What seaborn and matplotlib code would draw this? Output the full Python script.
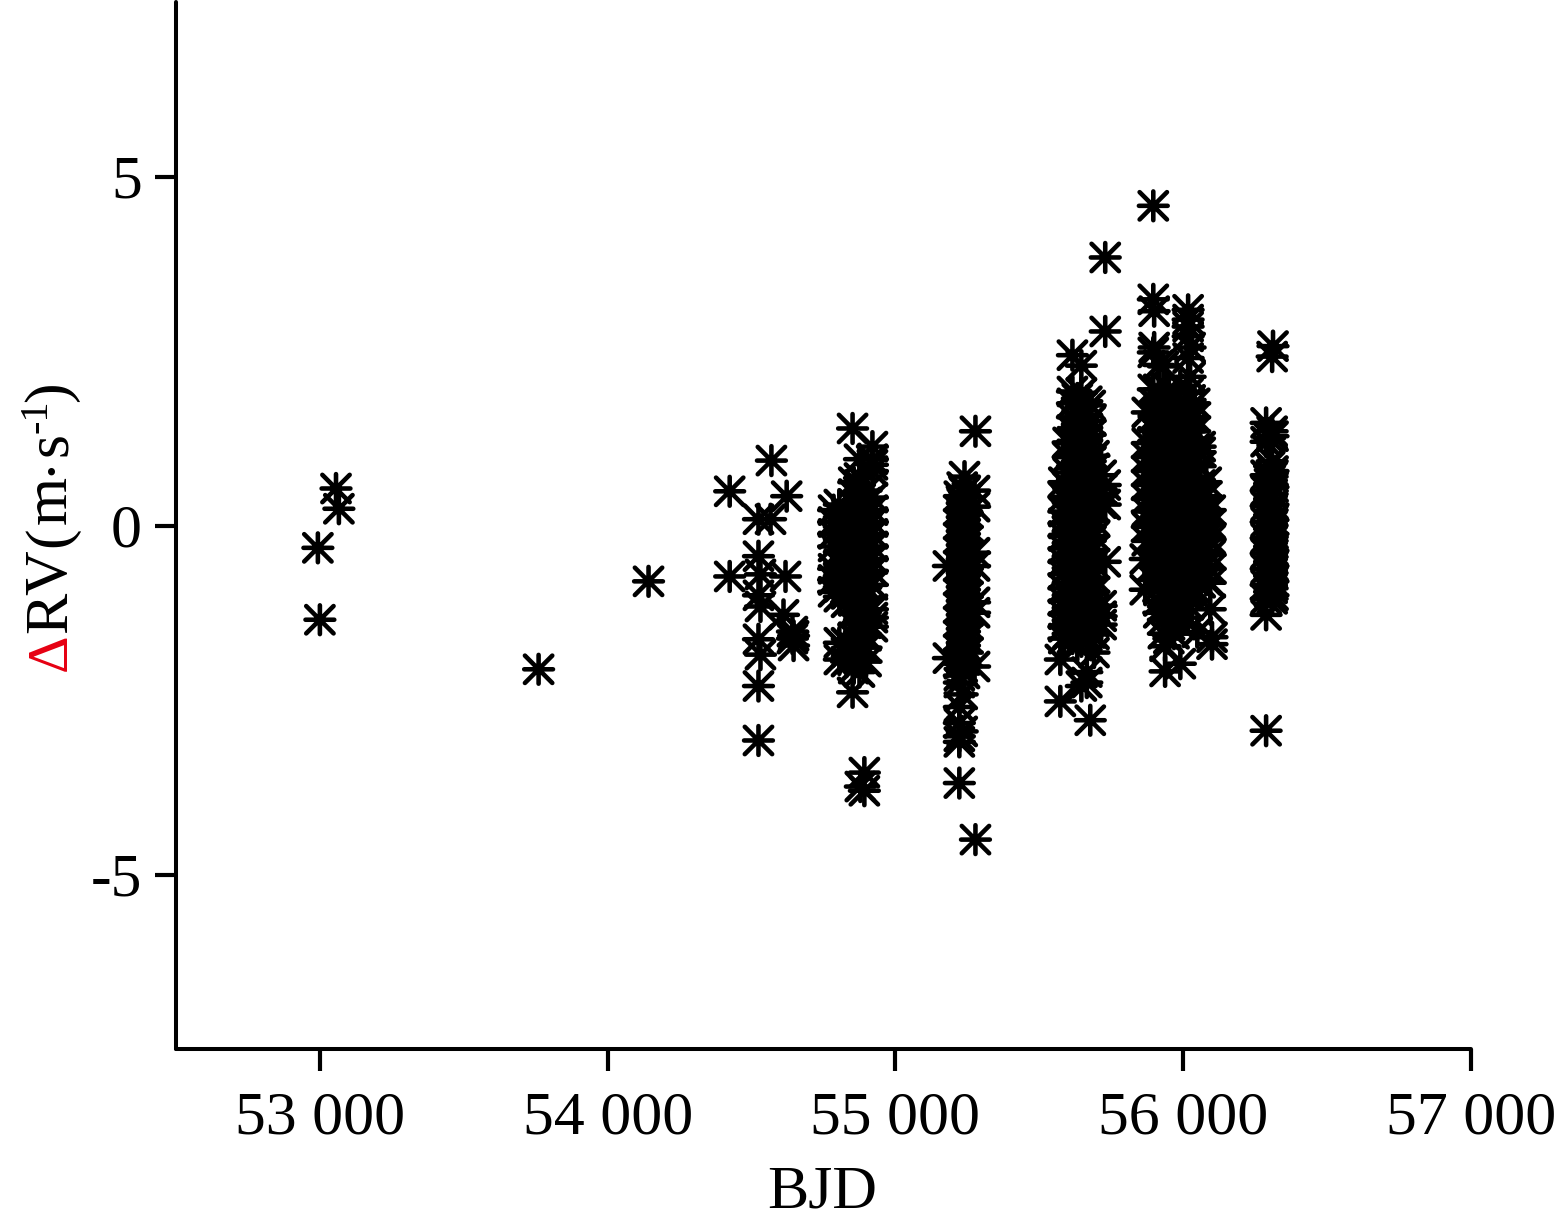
import matplotlib
matplotlib.use("Agg")
import matplotlib.pyplot as plt
from matplotlib.path import Path
from matplotlib.ticker import FixedLocator, FixedFormatter
import pandas as pd
import seaborn as sns

x_ticks = [53000, 54000, 55000, 56000, 57000]
x_labels = ["53 000", "54 000", "55 000", "56 000", "57 000"]
y_ticks = [-5, 0, 5]
y_labels = ["-5", "0", "5"]

# Each entry: (BJD, [RV values read at that BJD])
sparse = [
    (52993, [-0.32]), (53000, [-1.35]), (53056, [0.53]), (53066, [0.24]),
    (53760, [-2.06]), (54142, [-0.80]), (54424, [0.49, -0.73]),
    (54569, [0.93]), (54622, [0.42]), (54524, [0.09, -0.44, -1.0, -1.63, -2.3, -3.08]),
    (54566, [0.09]), (54531, [-0.70, -1.16, -1.85]), (54618, [-0.73]),
    (54611, [-1.28]), (54642, [-1.52, -1.62]), (54646, [-1.72, -1.58]),
]
epoch_548 = [
    (54785, [0.22, 0.05, -0.12, -0.30, -0.62, -0.78, -0.95]),
    (54805, [0.30, 0.12, -0.02, -0.20, -0.38, -0.55, -0.72, -0.88, -1.02, -1.68, -1.92]),
    (54830, [0.18, 0.02, -0.15, -0.32, -0.48, -0.65, -0.80, -0.98, -1.10, -1.68, -1.82, -1.95]),
    (54851, [1.39, -2.39]),
    (54855, [0.62, 0.45, 0.30, 0.12, -0.05, -0.22, -0.40, -0.58, -0.75, -0.90, -1.08, -1.25, -1.42, -1.60, -1.75, -1.90, -2.05]),
    (54875, [0.95, 0.68, 0.58, 0.40, 0.22, 0.05, -0.12, -0.30, -0.47, -0.65, -0.82, -1.00, -1.18, -1.35, -1.52, -1.70, -1.88, -2.10]),
    (54878, [-3.74]), (54892, [-3.54, -3.80]),
    (54898, [0.50, 0.33, 0.16, 0.00, -0.17, -0.35, -0.52, -0.70, -0.88, -1.05, -1.22, -1.40, -1.58, -1.75, -1.95]),
    (54920, [1.13, 0.95, 0.87, 0.78, 0.40, 0.22, 0.05, -0.12, -0.30, -0.48, -0.65, -0.85, -1.20, -1.32, -1.45]),
]
epoch_552 = [
    (55184, [-0.58, -1.90]),
    (55222, [0.42, 0.22, 0.02, -0.18, -0.38, -0.58, -0.78, -0.98, -1.18, -1.38, -1.58, -1.78, -1.98, -2.15, -2.25, -2.60, -2.83, -3.02, -3.10, -3.69]),
    (55232, [0.55, 0.32, 0.12, -0.08, -0.28, -0.48, -0.68, -0.88, -1.08, -1.28, -1.48, -1.68, -1.88, -2.08, -2.42, -2.95]),
    (55240, [0.70, 0.48, 0.28, 0.08, -0.12, -0.32, -0.52, -0.72, -0.92, -1.12, -1.32, -1.52, -1.72, -1.92, -2.12]),
    (55250, [0.40, 0.18, -0.02, -0.22, -0.42, -0.62, -0.82, -1.02, -1.22, -1.42, -1.62, -1.82]),
    (55275, [0.50, 0.27, -0.39, -0.58, -1.10, -1.25, -2.02]),
    (55278, [1.35, -4.50]),
]
epoch_556 = [
    (55573, [-1.92, -2.52]),
    (55585, [0.62, 0.41, 0.20, 0.03, -0.15, -0.33, -0.52, -0.70, -0.90, -1.08, -1.27, -1.45, -1.62]),
    (55600, [1.19, 0.98, 0.76, 0.55, 0.33, 0.12, -0.08, -0.25, -0.44, -0.61, -0.82, -1.00, -1.18, -1.36, -1.55]),
    (55615, [2.44, 1.92, 1.75, 1.55, 1.37, 1.20, 1.02, 0.85, 0.66, 0.47, 0.28, 0.08, -0.10, -0.30, -0.48, -0.68, -0.88, -1.05, -1.25, -1.42, -1.62]),
    (55632, [1.82, 1.62, 1.45, 1.27, 1.10, 0.92, 0.73, 0.55, 0.36, 0.17, -0.02, -0.20, -0.39, -0.58, -0.77, -0.95, -1.15, -1.33, -1.52, -1.72]),
    (55646, [2.29, 1.90, 1.70, 1.52, 1.35, 1.16, 0.98, 0.80, 0.62, 0.43, 0.24, 0.05, -0.14, -0.32, -0.50, -0.70, -0.90, -1.08, -1.28, -1.46, -1.66, -2.30]),
    (55665, [1.78, 1.58, 1.40, 1.22, 1.05, 0.86, 0.70, 0.50, 0.30, 0.12, -0.06, -0.25, -0.44, -0.62, -0.82, -1.02, -1.20, -1.40, -1.58, -2.10, -2.25]),
    (55677, [1.72, 1.50, 1.30, 1.12, 0.92, 0.74, 0.55, 0.36, 0.16, -0.02, -0.22, -0.40, -0.60, -0.78, -0.98, -1.16, -1.36, -1.54, -2.79]),
    (55690, [1.00, 0.82, 0.62, 0.44, 0.26, 0.06, -0.15, -0.35, -0.55, -0.75, -0.95, -1.20, -1.38, -1.56, -1.82]),
    (55715, [0.72, 0.52, 0.32, -1.15, -1.30, -1.42]),
    (55729, [3.84, 2.78, 0.58, 0.30, -0.52]),
]
epoch_560 = [
    (55868, [-0.48, -0.92]),
    (55875, [1.62, 1.18, 0.98, 0.78, 0.58, 0.38, 0.20, -0.02, -0.22]),
    (55896, [4.58, 3.24, 2.48, 1.95, 1.38, 1.20, 1.02, 0.82, 0.62, 0.42, 0.22, 0.02, -0.18, -0.38, -0.58, -0.78]),
    (55899, [3.07, 2.55, 1.75, 1.55]),
    (55915, [2.30, 1.95, 1.70, 1.50, 1.30, 1.10, 0.92, 0.72, 0.52, 0.32, 0.12, -0.08, -0.28, -0.48, -0.68, -0.88, -1.08, -1.25]),
    (55931, [2.28, 1.85, 1.62, 1.42, 1.22, 1.02, 0.82, 0.62, 0.42, 0.22, 0.04, -0.16, -0.36, -0.56, -0.76, -0.96, -1.16, -1.35, -1.55]),
    (55937, [-1.73, -2.09]),
    (55950, [1.95, 1.72, 1.52, 1.32, 1.12, 0.94, 0.74, 0.54, 0.34, 0.14, -0.06, -0.26, -0.46, -0.66, -0.86, -1.04, -1.24, -1.42, -1.62]),
    (55968, [1.80, 1.60, 1.40, 1.20, 1.00, 0.82, 0.62, 0.42, 0.24, 0.04, -0.16, -0.36, -0.56, -0.76, -0.94, -1.14, -1.34, -1.55]),
    (55990, [2.00, 1.75, 1.55, 1.35, 1.15, 0.96, 0.76, 0.56, 0.36, 0.16, -0.02, -0.22, -0.42, -0.62, -0.82, -1.02, -1.22, -1.42, -1.98]),
    (56017, [3.09, 2.95, 2.85, 2.71, 2.40, 1.90, 1.65, 1.45, 1.25, 1.05, 0.85, 0.65, 0.45, 0.26, 0.06, -0.14, -0.34, -0.54, -0.74, -0.94, -1.14, -1.32]),
    (56024, [2.13, 2.55, 1.80, 1.55, 1.35]),
    (56040, [1.75, 1.55, 1.35, 1.10, 0.90, 0.70, 0.50, 0.30, 0.10, -0.10, -0.30, -0.50, -0.70, -0.90]),
    (56049, [-1.53]),
    (56059, [1.13, 1.05, 0.85, 0.58, 0.38, 0.18, -0.02, -0.22, -0.42, -0.62, -0.82]),
    (56080, [0.62, 0.42, 0.22, 0.02, -0.18, -0.38, -0.58, -0.78]),
    (56094, [0.22, 0.02, -0.20, -0.42, -0.62, -0.82, -1.20]),
    (56100, [-1.60, -1.70]),
]
epoch_563 = [
    (56288, [1.47, 1.20, 0.72, 0.50, 0.28, 0.05, -0.18, -0.40, -0.62, -0.85, -1.05, -1.28, -2.94]),
    (56300, [1.25, 0.85, 0.60, 0.38, 0.15, -0.05, -0.30, -0.52, -0.72, -0.95]),
    (56309, [2.42, 1.35, 0.92, 0.70, 0.45, 0.22, 0.00, -0.22, -0.45, -0.68, -0.90, -1.05]),
    (56312, [2.57, 1.28, 0.78, 0.55, 0.30, 0.08, -0.12, -0.36, -0.58, -0.80, -1.00]),
]

rows = []
for epoch in (sparse, epoch_548, epoch_552, epoch_556, epoch_560, epoch_563):
    for bjd, rvs in epoch:
        rows.extend((bjd, rv) for rv in rvs)
df = pd.DataFrame(rows, columns=["BJD", "RV"])

sns.set_theme(style="ticks")
plt.rcParams.update({
    "font.family": ["Liberation Serif", "DejaVu Serif"],
    "axes.unicode_minus": False,
    "axes.linewidth": 2.9,
})

fig = plt.figure(figsize=(15.56, 12.25), dpi=100, facecolor="white")
ax = fig.add_axes([176 / 1556, 1 - 1049 / 1225, (1471 - 176) / 1556, (1049 - 2) / 1225])

star = Path(
    [(-1, 0), (1, 0), (0, -1), (0, 1), (-0.95, -0.95), (0.95, 0.95), (-0.95, 0.95), (0.95, -0.95)],
    [Path.MOVETO, Path.LINETO] * 4,
)
sns.scatterplot(data=df, x="BJD", y="RV", ax=ax, marker=star, s=430,
                facecolor="none", edgecolor="black", linewidth=3.3, legend=False, clip_on=False)
ax.collections[-1].set_capstyle("round")

ax.set_xlim(52500, 57000)
ax.set_ylim(-7.5, 7.5)
sns.despine(ax=ax)
for s in ("left", "bottom"):
    ax.spines[s].set_color("black")
    ax.spines[s].set_capstyle("round")

ax.xaxis.set_major_locator(FixedLocator(x_ticks))
ax.xaxis.set_major_formatter(FixedFormatter(x_labels))
ax.yaxis.set_major_locator(FixedLocator(y_ticks))
ax.yaxis.set_major_formatter(FixedFormatter(y_labels))
ax.tick_params(axis="x", length=16, width=3.0, pad=14, labelsize=44.6, color="black", labelcolor="black")
ax.tick_params(axis="y", length=15, width=3.0, pad=9.5, labelsize=44.6, color="black", labelcolor="black")
for t in ax.xaxis.get_major_ticks() + ax.yaxis.get_major_ticks():
    t.tick1line.set_clip_on(False)
for lab in ax.get_yticklabels():
    lab.set_va("center_baseline")

ax.set_xlabel("BJD", fontsize=44.6, color="black", labelpad=0)
ax.xaxis.set_label_coords((822 - 176) / (1471 - 176), -(1207 - 1049) / (1049 - 2))
ax.xaxis.label.set_va("baseline")
ax.set_ylabel("")


def vtext(px, py, s, size=44.6, color="black"):
    fig.text(px / 1556, 1 - py / 1225, s, rotation=90, rotation_mode="anchor",
             ha="left", va="baseline", fontsize=size, color=color)


vtext(66, 671, "\u0394", size=42, color="#e60012")
vtext(66, 633, "R")
vtext(66, 595, "V")
vtext(66, 547, "(")
vtext(66, 524, "m")
vtext(66, 475, "\u00b7")
vtext(66, 456, "s")
vtext(47, 433, "-1", size=29)
vtext(66, 402, ")")

fig.savefig("out.png", dpi=100, facecolor="white")
